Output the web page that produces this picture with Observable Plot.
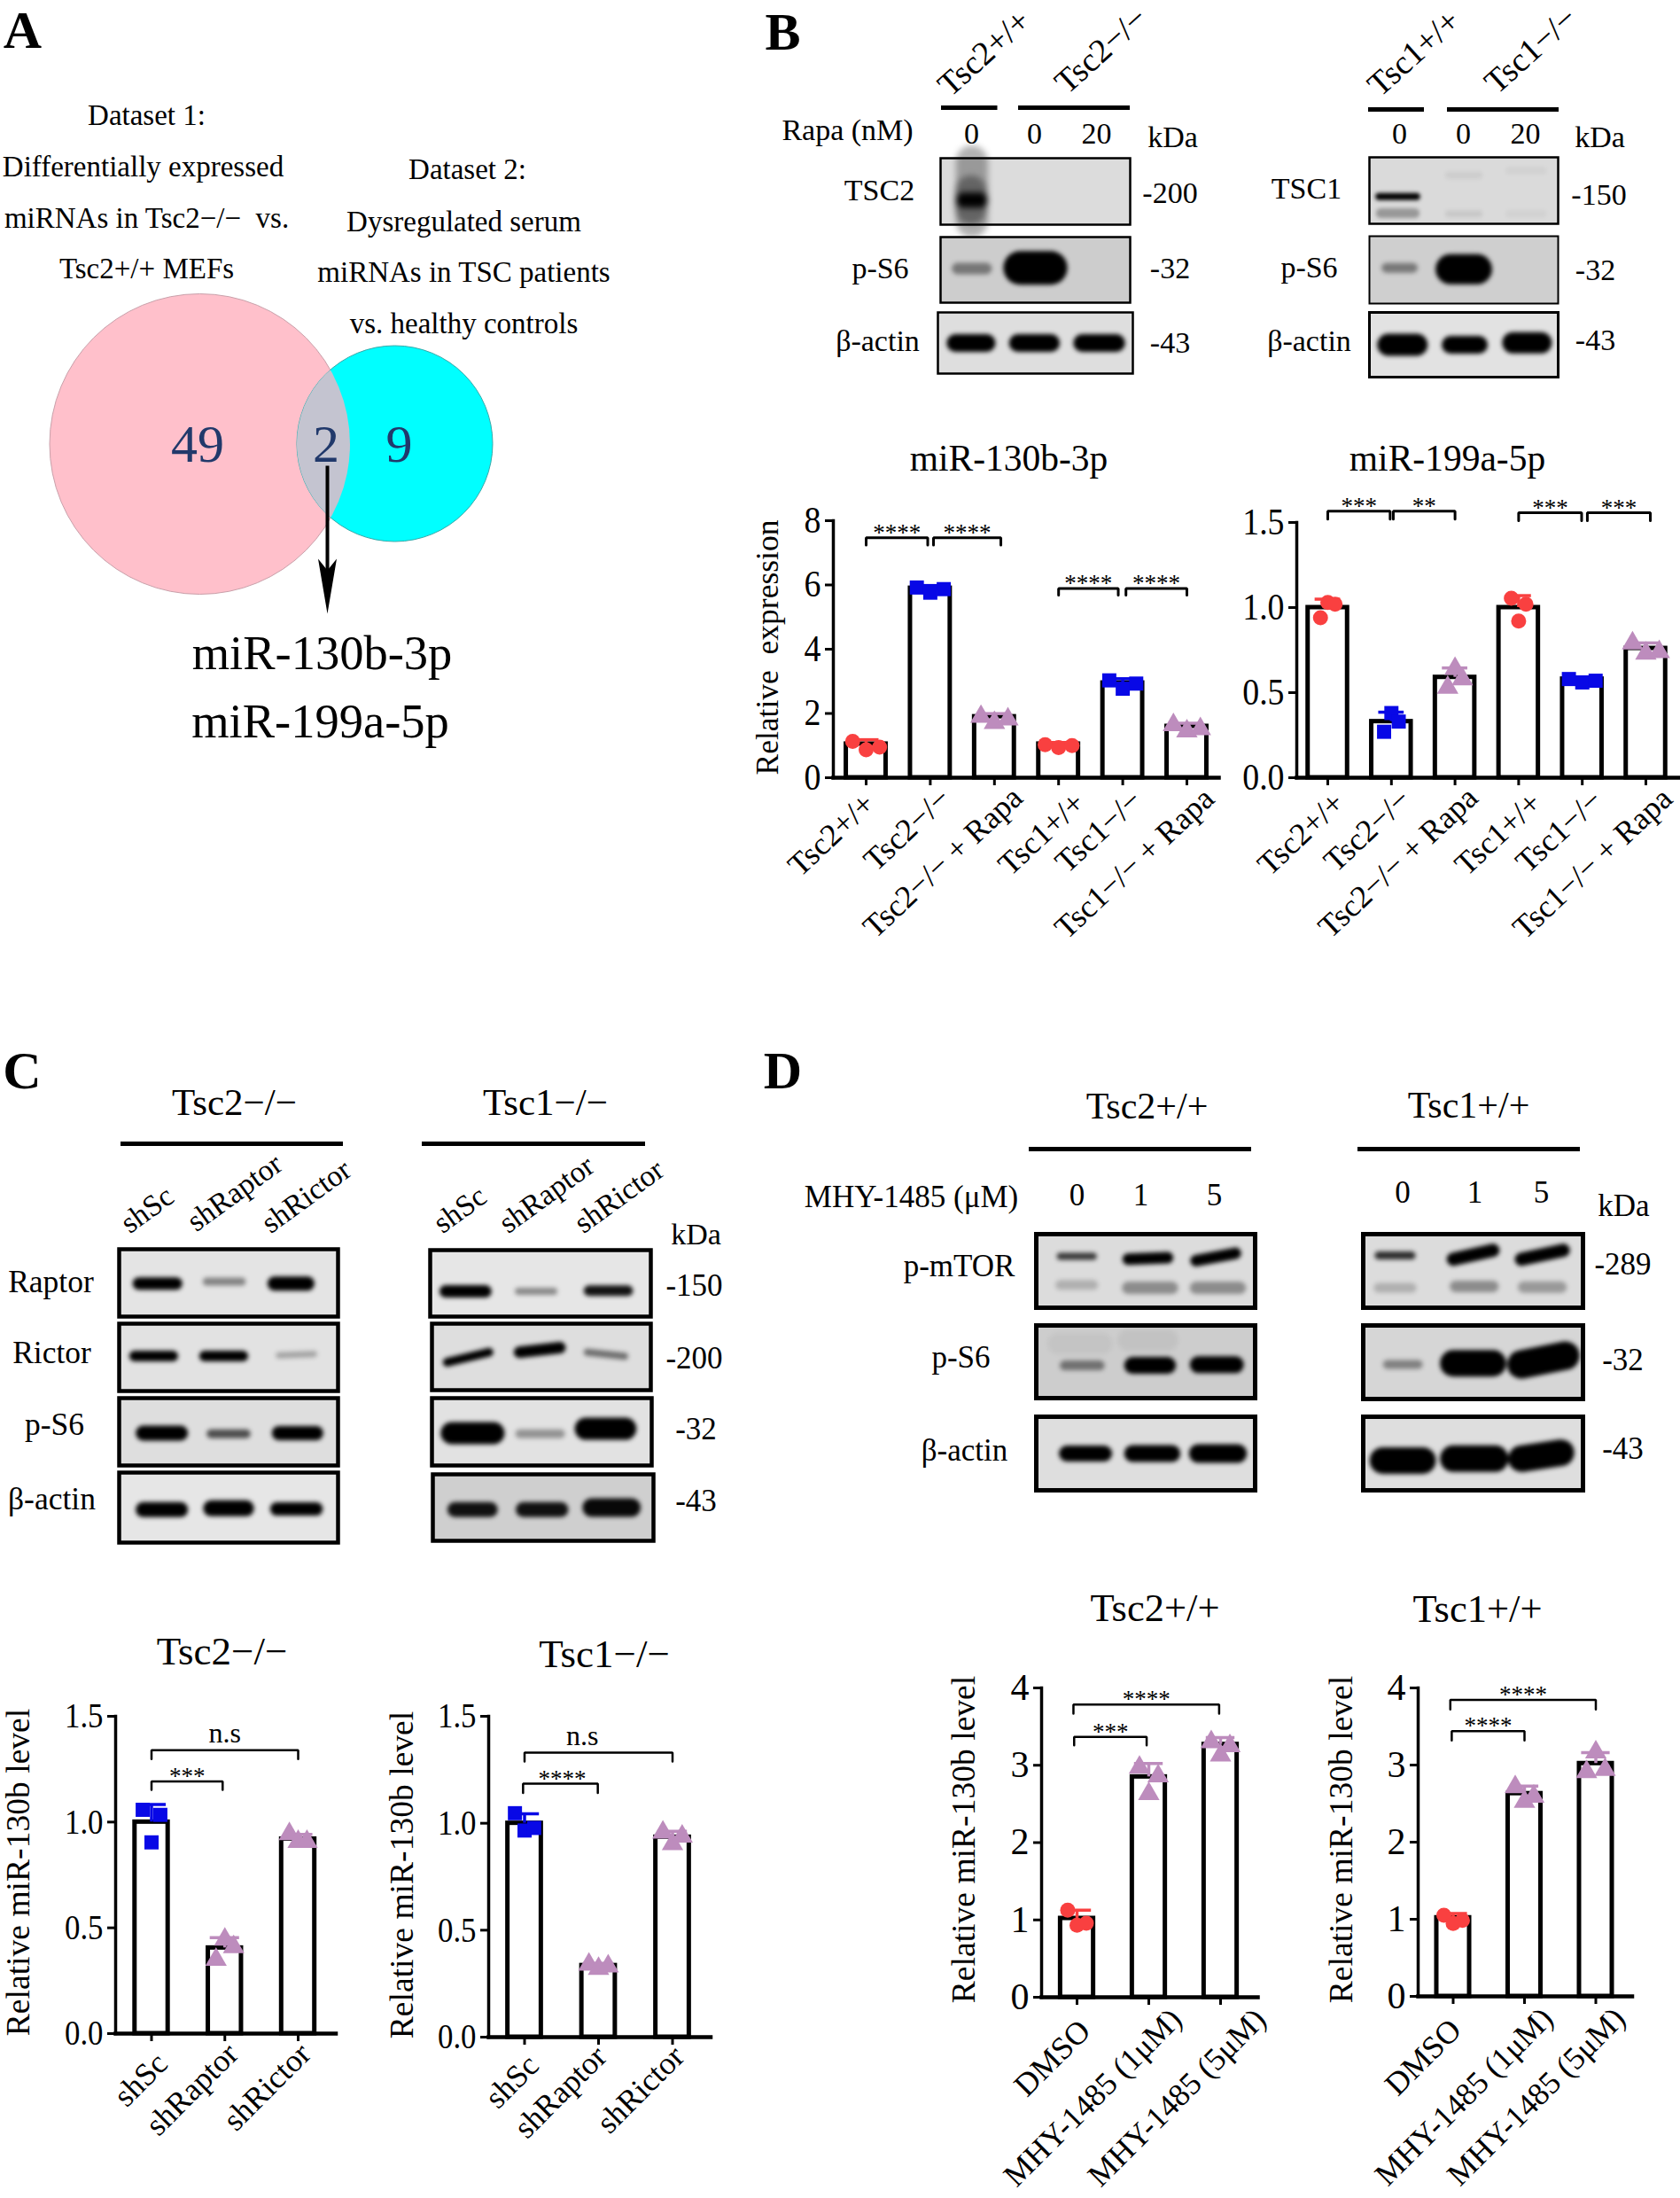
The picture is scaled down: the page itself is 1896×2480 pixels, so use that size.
<!DOCTYPE html>
<html><head><meta charset="utf-8">
<script src="https://cdn.jsdelivr.net/npm/d3@7"></script>
<script src="https://cdn.jsdelivr.net/npm/@observablehq/plot@0.6"></script>
<style>html,body{margin:0;padding:0;background:#fff}#stage{position:relative;width:1896px;height:2480px;overflow:hidden;background:#fff}</style>
</head><body><div id="stage"></div>
<script>
const FONT = "'Liberation Serif','Times New Roman',serif";
const stage = document.getElementById("stage");
const NB = "\u00A0";

/* ---------- Bar chart data ---------- */
const RED="#f94040", BLUE="#0808e6", MAUVE="#bd8cbd";
const tsCats=["Tsc2+/+","Tsc2−/−","Tsc2−/− + Rapa","Tsc1+/+","Tsc1−/−","Tsc1−/− + Rapa"];
const tsGroups=[RED,BLUE,MAUVE,RED,BLUE,MAUVE];
const mir130Means=[1.05,5.9,1.9,1.05,2.95,1.6];
const mir130Reps=[[1.13,.87,.95],[5.92,5.76,5.87],[1.9,1.71,1.82],[1.03,.94,1.0],[3.03,2.77,2.93],[1.64,1.45,1.52]];
const mir130Offs=[.21,.21,.21,.21,.21,.21];
const mir130Brackets=[[0,.96,7.47,7.24,"****"],[1.05,2.1,7.47,7.24,"****"],[3,3.93,5.89,5.68,"****"],[4.05,5,5.89,5.68,"****"]];
const mir199Means=[1.0,.33,.59,1.0,.58,.76];
const mir199Reps=[[.94,1.03,1.02],[.27,.38,.33],[.53,.64,.58],[1.055,.92,1.02],[.58,.56,.57],[.79,.73,.74]];
const mir199Offs=[.115,.115,.115,.115,.21,.21];
const mir199Brackets=[[0,.98,1.567,1.52,"***"],[1.03,2,1.567,1.52,"**"],[3,3.99,1.557,1.51,"***"],[4.08,5.07,1.557,1.51,"***"]];

const shCats=["shSc","shRaptor","shRictor"];
const shGroups=[BLUE,MAUVE,MAUVE];
const shTsc2Means=[1.0,.405,.92];
const shTsc2Reps=[[1.058,.904,1.034],[.35,.445,.41],[.944,.907,.907]];
const shTsc2Brackets=[[0,2,1.34,1.298,"n.s"],[0,.97,1.192,1.152,"***"]];
const shTsc1Means=[1.0,.335,.935];
const shTsc1Reps=[[1.047,.966,.978],[.34,.32,.332],[.957,.903,.939]];
const shTsc1Brackets=[[0,2,1.33,1.289,"n.s",.78],[-.02,.99,1.185,1.142,"****",.51]];

const mhyCats=["DMSO","MHY-1485 (1μM)","MHY-1485 (5μM)"];
const mhyGroups=[RED,MAUVE,MAUVE];
const mhyTsc2Means=[1.02,2.85,3.27];
const mhyTsc2Reps=[[1.125,.93,.957],[2.97,2.63,2.86],[3.30,3.13,3.25]];
const mhyTsc2Brackets=[[-.05,1.98,3.785,3.667,"****"],[-.04,.97,3.366,3.258,"***"]];
const mhyTsc1Means=[1.02,2.63,3.02];
const mhyTsc1Reps=[[1.053,.945,.986],[2.716,2.526,2.593],[2.91,3.168,2.94]];
const mhyTsc1Brackets=[[-.04,2,3.846,3.72,"****"],[-.02,1,3.44,3.32,"****"]];

/* ---------- Western blot bands: x1,y1,x2,y2 (fractions of the blot), thickness, darkness ---------- */
const bTsc2=[[.165,.05,.165,.95,36,.3],[.16,.5,.16,.75,36,.35],[.12,.63,.21,.63,17,1]];
const bS6a=[[.09,.48,.24,.48,13,.42],[.42,.47,.58,.47,38,1]];
const bActinA=[[.09,.5,.25,.5,20,1],[.41,.5,.58,.5,20,1],[.74,.5,.915,.5,20,1]];
const bTsc1=[[.05,.59,.25,.59,8,1],[.06,.84,.24,.84,11,.3],[.42,.27,.58,.27,8,.06],[.42,.85,.58,.85,8,.08],[.74,.2,.92,.2,8,.04],[.74,.85,.92,.85,8,.04]];
const bS6b=[[.09,.47,.23,.47,11,.42],[.43,.49,.57,.49,34,1]];
const bActinB=[[.1,.5,.25,.5,25,1],[.43,.5,.58,.5,20,1],[.76,.47,.91,.47,24,1]];

const cRaptorA=[[.09,.51,.26,.51,14,1],[.4,.48,.56,.48,9,.42],[.71,.51,.86,.51,16,1]];
const cRictorA=[[.07,.48,.245,.48,12,1],[.39,.48,.565,.48,12,1],[.73,.47,.89,.45,7,.28]];
const cS6A=[[.11,.52,.28,.52,17,1],[.42,.53,.58,.53,10,.65],[.73,.52,.9,.52,16,1]];
const cActinA=[[.11,.53,.28,.53,17,1],[.42,.51,.58,.51,18,1],[.72,.52,.9,.52,15,1]];
const cRaptorB=[[.07,.62,.25,.62,14,1],[.4,.62,.56,.62,8,.4],[.72,.61,.895,.61,12,.92]];
const cRictorB=[[.07,.58,.26,.43,10,1],[.4,.43,.585,.36,13,1],[.71,.43,.88,.49,8,.5]];
const cS6B=[[.09,.52,.28,.52,25,1],[.4,.53,.585,.53,10,.35],[.7,.455,.88,.455,25,1]];
const cActinB=[[.1,.53,.26,.53,17,.92],[.41,.53,.58,.53,17,.92],[.72,.5,.9,.5,21,.96]];

const dMtorA=[[.11,.3,.26,.3,8,.75],[.11,.69,.26,.69,11,.2],[.42,.34,.6,.32,13,1],[.42,.73,.62,.73,14,.36],[.73,.36,.91,.26,13,1],[.73,.73,.93,.73,14,.36]];
const dMtorB=[[.07,.29,.22,.29,9,.8],[.07,.73,.22,.73,11,.2],[.41,.34,.59,.22,15,1],[.42,.71,.59,.71,13,.36],[.72,.34,.91,.22,15,1],[.73,.72,.9,.72,13,.3]];
const dS6A=[[.13,.55,.29,.55,11,.45],[.44,.55,.6,.55,19,1],[.74,.54,.91,.54,19,1],[.1,.25,.3,.25,24,.04],[.42,.2,.6,.2,24,.05]];
const dS6B=[[.11,.53,.25,.53,10,.4],[.41,.515,.59,.515,30,1],[.72,.53,.92,.41,32,1]];
const dActinA=[[.14,.5,.31,.5,18,1],[.44,.5,.62,.5,19,1],[.74,.5,.92,.5,21,1]];
const dActinB=[[.09,.595,.27,.595,30,1],[.41,.57,.6,.57,30,1],[.72,.57,.9,.49,30,1]];

/* ---------- Venn diagram ---------- */
const vennSets=[{name:"Dataset 1",cx:225,cy:500.5,r:169.5,fill:"#ffc0cb",edge:"#c9a0aa"},{name:"Dataset 2",cx:445,cy:500,r:110.5,fill:"#00ffff",edge:"#3aa9a9"}];
const vennCounts=[{n:"49",x:222.5,y:520.5},{n:"2",x:367.5,y:520.5},{n:"9",x:450,y:520.5}];
const vennArrowShaft=[{x:369,y:525},{x:369,y:655}];
const vennArrowHead=[{x:369,y:692},{x:358.5,y:630},{x:369,y:643},{x:379.5,y:630}];

/* ---------- Text ---------- */
const labelsMiddle=[
 ["Dataset 1:",165,140,33,0],["Differentially expressed",161,198.5,33,0],["miRNAs in Tsc2−/−"+NB+NB+"vs.",165,256.5,33,0],["Tsc2+/+ MEFs",165,313.5,33,0],
 ["Dataset 2:",527,201.5,33,0],["Dysregulated serum",523,260.5,33,0],["miRNAs in TSC patients",523,317.5,33,0],["vs. healthy controls",523,375.5,33,0],
 ["miR-130b-3p",363,754,54.5,0],["miR-199a-5p",361,831,54.5,0],
 ["Rapa (nM)",956,157,34,0],["0",1096,161,34,0],["0",1167,161,34,0],["20",1237,161,34,0],["kDa",1323,165,34,0],
 ["0",1579,161,34,0],["0",1651,161,34,0],["20",1721,161,34,0],["kDa",1805,165,34,0],
 ["TSC2",992,225,34,0],["p-S6",993,313,34,0],["β-actin",990,395,34,0],["-200",1320,228,34,0],["-32",1320,313,34,0],["-43",1320,397,34,0],
 ["TSC1",1474,223,34,0],["p-S6",1477,312,34,0],["β-actin",1477,395,34,0],["-150",1804,230,34,0],["-32",1800,315,34,0],["-43",1800,394,34,0],
 ["miR-130b-3p",1138,530,41.5,0],["miR-199a-5p",1633,530,41.5,0],["Relative"+NB+NB+"expression",877,730,35.5,-90],
 ["Tsc2−/−",264,1257,43,0],["Tsc1−/−",615,1257,43,0],["kDa",785,1403,34,0],
 ["Raptor",57,1457,35.5,0],["Rictor",58,1537,35.5,0],["p-S6",61,1618,35.5,0],["β-actin",58,1702,35.5,0],
 ["-150",783,1461,35,0],["-200",783,1543,35,0],["-32",785,1623,35,0],["-43",785,1704,35,0],
 ["Tsc2−/−",250,1877,45,0],["Tsc1−/−",681.5,1880,45,0],
 ["Relative miR-130b level",32,2112,37.6,-90],["Relative miR-130b level",465,2115,37.6,-90],
 ["Tsc2+/+",1294,1261,42,0],["Tsc1+/+",1657,1260,42,0],["MHY-1485 (μM)",1028,1361,35,0],
 ["0",1215,1359,35,0],["1",1287,1359,35,0],["5",1370,1359,35,0],["0",1582.5,1356,35,0],["1",1664,1356,35,0],["5",1739,1356,35,0],["kDa",1832,1371,35,0],
 ["p-mTOR",1082,1439,35,0],["p-S6",1084,1542,35,0],["β-actin",1088,1647,35,0],
 ["-289",1831,1437,35,0],["-32",1831,1545,35,0],["-43",1831,1645,35,0],
 ["Tsc2+/+",1303,1828,44.5,0],["Tsc1+/+",1667,1829,44.5,0],
 ["Relative miR-130b level",1099,2075,37.6,-90],["Relative miR-130b level",1525,2075,37.6,-90]
];
const labelsHeaderStart=[["Tsc2+/+",1072,110,38,-42],["Tsc2−/−",1204,107,38,-42],["Tsc1+/+",1557,110,38,-42],["Tsc1−/−",1689,107,38,-42]];
const labelsShStart=[["shSc",146,1392,34,-36],["shRaptor",221,1390,34,-36],["shRictor",305,1392,34,-36],["shSc",499,1392,34,-36],["shRaptor",573,1392,34,-36],["shRictor",658,1392,34,-36]];
const panelLetters=[["A",25,53],["B",883,55],["C",24.5,1227],["D",883,1227]];
const headerLines=[[1062,1125.5,121],[1149,1275,121],[1544,1607,123],[1633,1759,123],[136,387,1290],[476,728,1290],[1161,1412,1296],[1532,1783,1296]];

/* ---------- helpers ---------- */
function place(svg,left,top){svg.style.position="absolute";svg.style.left=left+"px";svg.style.top=top+"px";svg.style.maxWidth="none";svg.style.background="transparent";svg.style.overflow="visible";stage.append(svg);return svg;}
const rowText=()=>({text:d=>d[0],x:d=>d[1],y:d=>d[2],fontSize:d=>d[3],rotate:d=>d[4]||0,lineAnchor:"bottom"});

/* annotation layer */
place(Plot.plot({width:1896,height:2480,margin:0,style:{fontFamily:FONT},
 x:{domain:[0,1896],range:[0,1896],axis:null},y:{domain:[0,2480],range:[0,2480],axis:null},
 marks:[
  Plot.ruleY(headerLines,{y:d=>d[2],x1:d=>d[0],x2:d=>d[1],stroke:"#000",strokeWidth:5}),
  Plot.text(labelsMiddle,{...rowText(),textAnchor:"middle",fill:"#000"}),
  Plot.text(labelsHeaderStart,{...rowText(),textAnchor:"start",fill:"#000"}),
  Plot.text(labelsShStart,{...rowText(),textAnchor:"start",fill:"#000"}),
  Plot.text(panelLetters,{text:d=>d[0],x:d=>d[1],y:d=>d[2],fontSize:60,fontWeight:"bold",lineAnchor:"bottom",textAnchor:"middle",fill:"#000"})
 ]}),0,0);

/* venn */
{const svg=place(Plot.plot({width:600,height:420,margin:0,style:{fontFamily:FONT},
  x:{domain:[0,600],range:[0,600],axis:null},y:{domain:[300,720],range:[0,420],axis:null},r:{type:"identity"},
  marks:[
   Plot.dot(vennSets,{x:"cx",y:"cy",r:"r",fill:"fill",fillOpacity:1,stroke:"edge",strokeWidth:1}),
   Plot.dot(vennSets.slice(0,1),{x:"cx",y:"cy",r:"r",fill:"#c4c4d0",stroke:"none"}),
   Plot.text(vennCounts,{text:"n",x:"x",y:"y",fontSize:60,fill:"#21396b",lineAnchor:"bottom"}),
   Plot.link(vennArrowShaft.slice(0,1),{x1:"x",y1:"y",x2:()=>vennArrowShaft[1].x,y2:()=>vennArrowShaft[1].y,stroke:"#000",strokeWidth:4}),
   Plot.line(vennArrowHead,{x:"x",y:"y",fill:"#000",stroke:"none"})
  ]}),0,300);
 const gs=svg.querySelectorAll('g[aria-label="dot"]');
 const c=gs[0].querySelectorAll("circle")[1];
 const ns="http://www.w3.org/2000/svg";
 const cp=document.createElementNS(ns,"clipPath");cp.id="vennLens";
 const cc=document.createElementNS(ns,"circle");["cx","cy","r"].forEach(a=>cc.setAttribute(a,c.getAttribute(a)));cp.append(cc);svg.append(cp);
 gs[1].setAttribute("clip-path","url(#vennLens)");
}

/* blots */
function blot(bands,x0,x1,y0,y1,bg,bw,blur){
 const w=x1-x0,h=y1-y0;
 const svg=place(Plot.plot({width:w,height:h,margin:0,x:{domain:[0,1],axis:null},y:{domain:[0,1],reverse:true,axis:null},
  marks:[
   Plot.frame({fill:bg,stroke:"none"}),
   Plot.link(bands,{x1:d=>d[0],y1:d=>d[1],x2:d=>d[2],y2:d=>d[3],strokeWidth:d=>d[4],strokeOpacity:d=>d[5],stroke:"#000",strokeLinecap:"round"}),
   Plot.frame({stroke:"#000",strokeWidth:bw})
  ]}),x0,y0);
 svg.querySelector('g[aria-label="link"]').style.filter=`blur(${blur??2.6}px)`;
}
[[bTsc2,1061,1275,178,253,"#dcdcdc",2.5,3.5],[bS6a,1061,1275,267,341,"#cdcdcd",2.5],[bActinA,1058,1278,352,421,"#dedede",2.5],
 [bTsc1,1545,1758,177,252,"#dadada",2.5,2],[bS6b,1545,1758,266,342,"#cfcfcf",2],[bActinB,1545,1758,352,425,"#e2e2e2",3],
 [cRaptorA,134,381,1409,1485,"#e4e4e4",4.5],[cRictorA,134,381,1493,1569,"#e2e2e2",4.5],[cS6A,134,381,1577,1653,"#dedede",4.5],[cActinA,134,381,1661,1740,"#e6e6e6",4.5],
 [cRaptorB,485,734,1410,1485,"#e6e6e6",4.5],[cRictorB,487,734,1493,1568,"#dedede",4.5],[cS6B,487,735,1577,1653,"#e2e2e2",4.5],[cActinB,488,737,1663,1738,"#cfcfcf",4.5],
 [dMtorA,1169,1416,1392,1475,"#dcdcdc",5],[dS6A,1169,1416,1495,1577,"#cdcdcd",5],[dActinA,1169,1416,1598,1681,"#dedede",5],
 [dMtorB,1538,1786,1392,1475,"#dcdcdc",5],[dS6B,1538,1786,1495,1578,"#d6d6d6",5],[dActinB,1538,1786,1598,1681,"#dedede",5]
].forEach(a=>blot(...a));

/* bar charts */
function barChart(o){
 const n=o.cats.length,idx=d3.range(n),ML=110,MT=70,MR=8,MB=o.bottom??240;
 const left=o.axisX-ML,top=o.yTop-MT,width=o.axisEnd-left+MR,height=o.y0-top+MB;
 const bars=idx.map(i=>({i,v:o.means[i],c:o.groups[i]}));
 const pts=idx.flatMap(i=>o.reps[i].map((v,j)=>({x:i+(j-1)*(o.offs?o.offs[i]:o.off),v,c:o.groups[i]})));
 const errs=bars.map(b=>({x:b.i,m:b.v,top:b.v+d3.deviation(o.reps[b.i]),c:b.c}));
 const brk=o.brackets.map((b,k)=>({k,x1:b[0],x2:b[1],y:b[2],leg:b[3],label:b[4],lx:b[5]??(b[0]+b[1])/2}));
 const path=brk.flatMap(b=>[{k:b.k,x:b.x1,y:b.leg},{k:b.k,x:b.x1,y:b.y},{k:b.k,x:b.x2,y:b.y},{k:b.k,x:b.x2,y:b.leg}]);
 const stars=brk.filter(b=>b.label!=="n.s"),ns=brk.filter(b=>b.label==="n.s");
 const dot=(color,sym,r)=>Plot.dot(pts.filter(p=>p.c===color),{x:"x",y:"v",symbol:sym,r,fill:color,stroke:"none"});
 const svg=place(Plot.plot({width,height,marginLeft:ML,marginTop:MT,marginRight:MR,marginBottom:MB,style:{fontFamily:FONT},
  x:{domain:[0,n-1],range:[o.c0-left,o.cn-left]},y:{domain:[0,o.yMax]},
  marks:[
   Plot.rect(bars,{x1:d=>d.i-o.half,x2:d=>d.i+o.half,y1:0,y2:"v",fill:"#fff",stroke:"#000",strokeWidth:5}),
   Plot.ruleX(errs,{x:"x",y1:"m",y2:"top",stroke:"c",strokeWidth:3.5}),
   Plot.ruleY(errs,{y:"top",x1:d=>d.x-.2,x2:d=>d.x+.2,stroke:"c",strokeWidth:3.5}),
   dot(RED,"circle",8.5),dot(BLUE,"square",9),dot(MAUVE,"triangle",9),
   Plot.line(path,{x:"x",y:"y",z:"k",stroke:"#000",strokeWidth:o.bracketW??3,strokeLinejoin:"miter"}),
   Plot.text(stars,{x:"lx",y:"y",text:"label",fontSize:27,lineAnchor:"bottom",dy:3,fill:"#000"}),
   Plot.text(ns,{x:"lx",y:"y",text:"label",fontSize:32,lineAnchor:"bottom",dy:-9,fill:"#000"}),
   Plot.axisY({ticks:o.yTicks,tickFormat:o.yFmt,tickSize:9,tickPadding:5,strokeWidth:3,fontSize:o.yFont,label:null}),
   Plot.axisX({ticks:idx,tickFormat:i=>o.cats[i],tickRotate:o.xRot,tickSize:9,tickPadding:4,strokeWidth:3,fontSize:o.xFont,label:null}),
   Plot.frame({anchor:"left",strokeWidth:3.5}),Plot.frame({anchor:"bottom",strokeWidth:4.5})
  ]}),left,top);
 svg.querySelectorAll('g[aria-label="y-axis tick label"] text').forEach(t=>{
  if(o.ySq&&o.ySq!==1){t.setAttribute("textLength",t.getComputedTextLength()*o.ySq);t.setAttribute("lengthAdjust","spacingAndGlyphs");}
 });
 svg.querySelectorAll('g[aria-label="x-axis tick label"] text').forEach((t,i)=>{
  const s=o.xShift[i];t.setAttribute("transform",`translate(${s[0]},${s[1]}) `+(t.getAttribute("transform")||""));
 });
}
const fmt1=d3.format(".1f"),fmt0=d3.format("d");
barChart({cats:tsCats,groups:tsGroups,means:mir130Means,reps:mir130Reps,offs:mir130Offs,brackets:mir130Brackets,axisX:940,axisEnd:1375,y0:877,yTop:587,c0:977,cn:1339,half:.31,yMax:8,yTicks:[0,2,4,6,8],yFmt:fmt0,yFont:42,ySq:.9,xFont:36,xRot:-43,xShift:[[4,11],[17,5],[26,4],[24,10],[16,7],[25,5]]});
barChart({cats:tsCats,groups:tsGroups,means:mir199Means,reps:mir199Reps,offs:mir199Offs,brackets:mir199Brackets,axisX:1463,axisEnd:1894,y0:877,yTop:589,c0:1498,cn:1857,half:.31,yMax:1.5,yTicks:[0,.5,1,1.5],yFmt:fmt1,yFont:42,ySq:.9,xFont:36,xRot:-43,xShift:[[13,10],[16,6],[20,4],[20,10],[17,7],[24,5]]});
barChart({cats:shCats,groups:shGroups,means:shTsc2Means,reps:shTsc2Reps,off:.12,brackets:shTsc2Brackets,axisX:130,axisEnd:378.5,y0:2294,yTop:1936,c0:170.5,cn:336,half:.226,yMax:1.5,yTicks:[0,.5,1,1.5],yFmt:fmt1,yFont:40,ySq:.87,xFont:36,xRot:-45,bracketW:2.5,bottom:180,xShift:[[12,15],[9,4],[8,4]]});
barChart({cats:shCats,groups:shGroups,means:shTsc1Means,reps:shTsc1Reps,off:.13,brackets:shTsc1Brackets,axisX:550.5,axisEnd:801,y0:2298,yTop:1936,c0:591,cn:758,half:.226,yMax:1.5,yTicks:[0,.5,1,1.5],yFmt:fmt1,yFont:40,ySq:.87,xFont:36,xRot:-45,bracketW:2.5,bottom:176,xShift:[[10,13],[3,3],[7,3]]});
barChart({cats:mhyCats,groups:mhyGroups,means:mhyTsc2Means,reps:mhyTsc2Reps,off:.13,brackets:mhyTsc2Brackets,axisX:1175,axisEnd:1419,y0:2253,yTop:1904,c0:1215,cn:1377,half:.23,yMax:4,yTicks:[0,1,2,3,4],yFmt:fmt0,yFont:42,xFont:36,xRot:-45,bracketW:2.5,bottom:225,xShift:[[9,19],[31,6],[45,6]]});
barChart({cats:mhyCats,groups:mhyGroups,means:mhyTsc1Means,reps:mhyTsc1Reps,off:.13,brackets:mhyTsc1Brackets,axisX:1599.5,axisEnd:1841,y0:2252,yTop:1904,c0:1639,cn:1800,half:.23,yMax:4,yTicks:[0,1,2,3,4],yFmt:fmt0,yFont:42,xFont:36,xRot:-45,bracketW:2.5,bottom:226,xShift:[[3,19],[26,6],[27,6]]});
</script></body></html>
